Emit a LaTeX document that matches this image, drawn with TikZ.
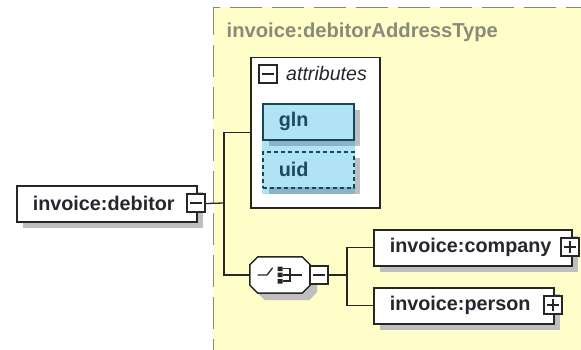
\documentclass[tikz,border=0pt]{standalone}
\usepackage{fontspec}
\setmainfont{Liberation Sans}
\definecolor{areafill}{HTML}{FFFDC8}
\definecolor{areadash}{HTML}{8A8A7A}
\definecolor{attrfill}{HTML}{B0E4F5}
\definecolor{attrline}{HTML}{17475C}
\definecolor{attrtext}{HTML}{1C4A60}
\definecolor{shadowgray}{HTML}{BFBFBF}
\definecolor{shadowblue}{HTML}{8CB3C6}
\definecolor{inktext}{HTML}{26262E}
\tikzset{
  x=1pt,y=-1pt,
  line/.style={line width=1.5pt,draw=black!85},
  wire/.style={line width=1.3pt,draw=black!85},
  labelfont/.style={font=\bfseries\fontsize{19.8}{22}\selectfont},
  elem/.style={line,fill=white,rectangle,anchor=north west,minimum height=36pt,inner xsep=16pt,inner ysep=0pt,align=left,labelfont,text=inktext},
  elemshadow/.style={fill=shadowgray,draw=none,rectangle,anchor=north west,minimum height=36pt,inner sep=0pt},
  togglebox/.style={line,fill=white,rectangle,minimum size=18pt,inner sep=0pt},
  attrbox/.style={rectangle,anchor=north west,minimum width=91pt,minimum height=36pt,text width=59pt,inner xsep=16pt,inner ysep=0pt,align=left,labelfont,text=attrtext,fill=attrfill,draw=attrline,line width=1.6pt},
  seqshape/.style={rectangle,minimum width=60pt,minimum height=36pt,inner sep=0pt},
  dashedge/.style={areadash,line width=1.2pt}
}
\newcommand{\octpath}[2]{\path[#2] ([xshift=8pt]#1.north west) -- ([xshift=-8pt]#1.north east) -- ([yshift=-8pt]#1.north east) -- ([yshift=8pt]#1.south east) -- ([xshift=-8pt]#1.south east) -- ([xshift=8pt]#1.south west) -- ([yshift=8pt]#1.south west) -- ([yshift=-8pt]#1.north west) -- cycle;}
\newcommand{\tgminus}[1]{\draw[wire] ([xshift=-6pt]#1.center) -- ([xshift=6pt]#1.center);}
\newcommand{\tgplus}[1]{\tgminus{#1}\draw[wire] ([yshift=-6pt]#1.center) -- ([yshift=6pt]#1.center);}
\begin{document}
\begin{tikzpicture}
\useasboundingbox (0,0) rectangle (581,350);
\fill[white] (0,0) rectangle (581,350);
% complex type area
\fill[areafill] (213.5,7.5) rectangle (581,350);
\coordinate (corner) at (213.5,7.5);
\draw[dashedge,dash pattern=on 32pt off 10pt,dash phase=4.5pt] (corner) -- (213.5,350);
\draw[dashedge,dash pattern=on 32pt off 10pt,dash phase=25.5pt] (corner) -- (581,7.5);
\node[anchor=base west,inner sep=0pt,text=areadash,font=\bfseries\fontsize{20.2}{22}\selectfont] (title) at (226.5,37.5) {invoice:debitorAddressType};
% junctions
\coordinate (j1) at (224,203);
\coordinate (j2) at (347,275);
% attributes group
\node[line,fill=white,rectangle,anchor=north west,minimum width=129pt,minimum height=150pt,inner sep=0pt] (attrs) at (250,57) {};
\node[togglebox,minimum size=18pt] (attrtoggle) at (268,74) {};
\tgminus{attrtoggle}
\node[anchor=base west,inner sep=0pt,font=\itshape\fontsize{19.6}{22}\selectfont,text=inktext] (attrlabel) at (286,80.5) {attributes};
\fill[attrfill] (262,103) rectangle (355,194);
\fill[shadowgray] (355,110) rectangle (360,146);
\fill[shadowblue] (269,139) rectangle (355,146);
\fill[shadowgray] (355,158) rectangle (360,194);
\fill[shadowblue] (269,187) rectangle (355,194);
\node[attrbox] (gln) at (262,103) {gln};
\node[attrbox,fill=none,dash pattern=on 4pt off 3pt] (uid) at (262,151) {uid};
% debitor
\node[elemshadow,minimum width=180pt] (debshadow) at (23,192) {};
\node[elem,minimum width=180pt,text width=148pt] (deb) at (16,185) {invoice:debitor};
% sequence
\node[seqshape] (seqshadow) at (287,282) {};
\octpath{seqshadow}{fill=shadowgray}
\node[seqshape] (seq) at (280,275) {};
\octpath{seq}{line,fill=white}
\draw[wire,line cap=round] (258,275) -- (267,275) -- (272.5,268);
\fill[black!85] (277.5,266.5) rectangle (282.5,271) (277.5,272.5) rectangle (282.5,277) (277.5,279) rectangle (282.5,283.5);
\draw[wire] (282.5,268.5) -- (290,268.5) -- (290,281) -- (282.5,281) (282.5,275) -- (302,275);
% company and person
\node[elemshadow,minimum width=198pt] (compshadow) at (380,236) {};
\node[elem,minimum width=198pt,text width=166pt] (comp) at (373,229) {invoice:company};
\node[elemshadow,minimum width=180pt] (persshadow) at (380,294) {};
\node[elem,minimum width=180pt,text width=148pt] (pers) at (373,287) {invoice:person};
% connectors
\draw[wire] (deb.east) -- (j1);
\draw[wire] (attrs.west) -| (j1) |- (seq.west);
\draw[wire] (seq.east) -- (j2);
\draw[wire] (comp.west) -| (j2) |- (pers.west);
% toggles
\node[togglebox] (seqtoggle) at (319,275) {};
\tgminus{seqtoggle}
\node[togglebox] (debtoggle) at (196,203) {};
\tgminus{debtoggle}
\node[togglebox] (comptoggle) at (570,247) {};
\tgplus{comptoggle}
\node[togglebox] (perstoggle) at (553,305) {};
\tgplus{perstoggle}
\end{tikzpicture}
\end{document}
